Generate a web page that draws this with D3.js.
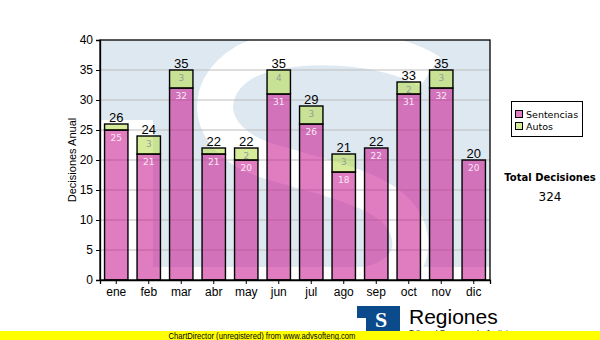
<!DOCTYPE html>
<html><head><meta charset="utf-8">
<script src="https://cdn.jsdelivr.net/npm/d3@7"></script>
<style>body{margin:0;background:#fff}svg{display:block}</style>
</head><body>
<svg id="c" width="600" height="340"></svg>
<script>
const months = ["ene","feb","mar","abr","may","jun","jul","ago","sep","oct","nov","dic"];
const sentencias = [25,21,32,21,20,31,26,18,22,31,32,20];
const autos = [1,3,3,1,2,4,3,3,0,2,3,0];
const yTicks = [0,5,10,15,20,25,30,35,40];
const seriesNames = ["Sentencias","Autos"];
const totalLabel = "Total Decisiones";

const svg = d3.select("#c");
const L = 100, R = 490, T = 40, B = 280;
const x = d3.scaleBand().domain(months).range([L, R]).paddingInner(0.28).paddingOuter(0.14);
const y = d3.scaleLinear().domain([0, 40]).range([B, T]);

const table = months.map((m, i) => ({m, Sentencias: sentencias[i], Autos: autos[i]}));
const stacked = d3.stack().keys(seriesNames)(table);
const colors = {Sentencias: "#c7118c", Autos: "#b5dd48"};
const labelColors = {Sentencias: "#fbe6f4", Autos: "#9a9a9a"};

// plot background with watermark
const defs = svg.append("defs");
defs.append("clipPath").attr("id", "pc").append("rect").attr("x", L).attr("y", T).attr("width", R - L).attr("height", B - T);
const wm = svg.append("g").attr("clip-path", "url(#pc)");
wm.append("rect").attr("x", L).attr("y", T).attr("width", R - L).attr("height", B - T).attr("fill", "#fff");
wm.append("rect").attr("x", L).attr("y", T).attr("width", R - L).attr("height", 80).attr("fill", "#dee8f1");
wm.append("rect").attr("x", 153).attr("y", T).attr("width", R - 153).attr("height", 267 - T).attr("fill", "#dee8f1");
wm.append("path")
  .attr("d", "M 430,72 C 390,45 290,38 245,62 C 200,88 205,140 265,160 C 330,180 395,190 408,230 C 420,268 385,290 320,290")
  .attr("fill", "none").attr("stroke", "#fff").attr("stroke-width", 36);

// grid
svg.append("g").selectAll("line").data(yTicks.filter(v => v > 0 && v < 40)).join("line")
  .attr("x1", L).attr("x2", R).attr("y1", d => y(d)).attr("y2", d => y(d))
  .attr("stroke", "#bdbdbd").attr("stroke-width", 1);

// bars
const gBars = svg.append("g");
stacked.forEach(s => {
  gBars.append("g").selectAll("rect").data(s.filter(d => d[1] - d[0] > 0)).join("rect")
    .attr("x", d => x(d.data.m)).attr("width", x.bandwidth())
    .attr("y", d => y(d[1])).attr("height", d => y(d[0]) - y(d[1]))
    .attr("fill", colors[s.key]).attr("fill-opacity", 0.55)
    .attr("stroke", "#000").attr("stroke-width", 1.4);
});
stacked.forEach(s => {
  gBars.append("g").selectAll("text").data(s.filter(d => d[1] - d[0] >= 2)).join("text")
    .attr("x", d => x(d.data.m) + x.bandwidth() / 2).attr("y", d => y(d[1]) + 10.5)
    .attr("text-anchor", "middle").attr("font-family", "DejaVu Sans, Verdana, sans-serif")
    .attr("font-size", 9).attr("fill", labelColors[s.key])
    .text(d => d[1] - d[0]);
});
// totals
const last = stacked[stacked.length - 1];
gBars.append("g").selectAll("text").data(last).join("text")
  .attr("x", d => x(d.data.m) + x.bandwidth() / 2).attr("y", d => y(d[1]) - 2)
  .attr("text-anchor", "middle").attr("font-family", "Liberation Sans, Arial, sans-serif")
  .attr("font-size", 13).attr("fill", "#000").text(d => d[1]);

// frame
svg.append("rect").attr("x", L).attr("y", T).attr("width", R - L).attr("height", B - T)
  .attr("fill", "none").attr("stroke", "#000").attr("stroke-width", 1.3);

// axes
const yAxis = svg.append("g").attr("transform", `translate(${L},0)`)
  .call(d3.axisLeft(y).tickValues(yTicks).tickSize(4).tickPadding(3));
const xAxis = svg.append("g").attr("transform", `translate(0,${B})`)
  .call(d3.axisBottom(x).tickSize(4).tickPadding(3));
[yAxis, xAxis].forEach(a => {
  a.select(".domain").attr("stroke", "#000").attr("stroke-width", 1.3);
  a.selectAll(".tick line").attr("stroke", "#000");
  a.selectAll("text").attr("font-family", "Liberation Sans, Arial, sans-serif").attr("font-size", 12).attr("fill", "#000");
});

svg.append("text").attr("transform", "translate(76,160) rotate(-90)")
  .attr("text-anchor", "middle").attr("font-family", "Liberation Sans, Arial, sans-serif")
  .attr("font-size", 11).text("Decisiones Anual");

// legend
const lg = svg.append("g");
lg.append("rect").attr("x", 511.5).attr("y", 101.5).attr("width", 71).attr("height", 35)
  .attr("fill", "#fff").attr("stroke", "#000");
seriesNames.forEach((n, i) => {
  lg.append("rect").attr("x", 515.5).attr("y", 110.5 + i * 12).attr("width", 7).attr("height", 7)
    .attr("fill", colors[n]).attr("fill-opacity", 0.55).attr("stroke", "#000");
  lg.append("text").attr("x", 526).attr("y", 118 + i * 12)
    .attr("font-family", "DejaVu Sans, Verdana, sans-serif").attr("font-size", 9.5).text(n);
});

const total = d3.sum(sentencias) + d3.sum(autos);
svg.append("text").attr("x", 550).attr("y", 181).attr("text-anchor", "middle")
  .attr("font-family", "DejaVu Sans, Verdana, sans-serif").attr("font-weight", "bold")
  .attr("font-size", 10).text(totalLabel);
svg.append("text").attr("x", 550).attr("y", 201).attr("text-anchor", "middle")
  .attr("font-family", "DejaVu Sans, Verdana, sans-serif")
  .attr("font-size", 12).text(total);

// logo
const lo = svg.append("g");
lo.append("rect").attr("x", 357).attr("y", 306).attr("width", 43).attr("height", 25).attr("fill", "#0b4a8b");
lo.append("rect").attr("x", 357).attr("y", 318).attr("width", 9).attr("height", 13).attr("fill", "#fff");
lo.append("text").attr("x", 381).attr("y", 327).attr("text-anchor", "middle")
  .attr("font-family", "Liberation Serif, serif").attr("font-weight", "bold")
  .attr("font-size", 22).attr("fill", "#fff").text("S");
lo.append("text").attr("x", 409).attr("y", 324).attr("font-family", "Liberation Sans, Arial, sans-serif")
  .attr("font-size", 21).attr("fill", "#000").text("Regiones");
lo.append("text").attr("x", 409).attr("y", 335).attr("font-family", "Liberation Sans, Arial, sans-serif")
  .attr("font-size", 8).attr("fill", "#000").text("Tribunal Supremo de Justicia");

// footer
svg.append("rect").attr("x", 0).attr("y", 331).attr("width", 600).attr("height", 9).attr("fill", "#ffff00");
svg.append("g").attr("transform", "translate(262,339) scale(0.85,1)")
  .append("text").attr("x", 0).attr("y", 0).attr("text-anchor", "middle")
  .attr("font-family", "Liberation Sans, Arial, sans-serif").attr("font-size", 9)
  .text("ChartDirector (unregistered) from www.advsofteng.com");
</script>
</body></html>
